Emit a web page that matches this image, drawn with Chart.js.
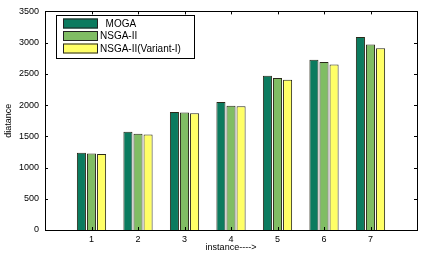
<!DOCTYPE html>
<html>
<head>
<meta charset="utf-8">
<script src="https://cdn.jsdelivr.net/npm/chart.js@4/dist/chart.umd.min.js"></script>
<style>
  html, body { margin: 0; padding: 0; background: #fff; }
  #wrap { width: 423px; height: 270px; }
</style>
</head>
<body>
<div id="wrap"><canvas id="grafico"></canvas></div>
<script>
// dados
const instancias = ['1', '2', '3', '4', '5', '6', '7'];
const series = ['  MOGA', 'NSGA-II', 'NSGA-II(Variant-I)'];
const moga = [1235, 1575, 1890, 2050, 2470, 2725, 3090];
const nsga2 = [1225, 1540, 1880, 1990, 2435, 2690, 2970];
const nsga2Variante = [1215, 1530, 1870, 1980, 2405, 2650, 2910];
const yTicks = [0, 500, 1000, 1500, 2000, 2500, 3000, 3500];

const cores = ['#0b7b5f', '#80bd64', '#ffff66'];
const fonte = 'Liberation Sans, Arial, sans-serif';

// posições vazias nas pontas (eixo vai de 0 a 8)
const rotulos = ['', ...instancias, ''];
const pad = arr => [null, ...arr, null];

// moldura, marcas internas e legenda em caixa
const molduraPlugin = {
  id: 'moldura',
  afterDraw(chart) {
    const ctx = chart.ctx;
    const a = chart.chartArea;
    const x = chart.scales.x, y = chart.scales.y;
    ctx.save();
    ctx.strokeStyle = '#000';
    ctx.lineWidth = 1;
    ctx.strokeRect(Math.round(a.left) + 0.5, Math.round(a.top) + 0.5,
      Math.round(a.right - a.left), Math.round(a.bottom - a.top));
    ctx.beginPath();
    for (let i = 1; i <= instancias.length; i++) {
      const px = Math.round(x.getPixelForValue(i)) + 0.5;
      ctx.moveTo(px, a.bottom); ctx.lineTo(px, a.bottom - 3);
      ctx.moveTo(px, a.top); ctx.lineTo(px, a.top + 3);
    }
    yTicks.forEach(v => {
      const py = Math.round(y.getPixelForValue(v)) + 0.5;
      ctx.moveTo(a.left, py); ctx.lineTo(a.left + 3, py);
      ctx.moveTo(a.right, py); ctx.lineTo(a.right - 3, py);
    });
    ctx.stroke();

    // legenda
    const lx = 56, ly = 15, lw = 138, lh = 43;
    ctx.fillStyle = '#fff';
    ctx.fillRect(lx, ly, lw, lh);
    ctx.strokeRect(lx + 0.5, ly + 0.5, lw, lh);
    ctx.font = '10px ' + fonte;
    ctx.textBaseline = 'middle';
    series.forEach((nome, i) => {
      const ry = ly + 3.5 + i * 12.5;
      ctx.fillStyle = cores[i];
      ctx.fillRect(63, ry, 35, 10);
      ctx.strokeStyle = '#222';
      ctx.strokeRect(63.5, ry + 0.5, 34, 9);
      ctx.fillStyle = '#000';
      ctx.fillText(nome, 100, ry + 5.5);
    });
    ctx.restore();
  }
};

new Chart(document.getElementById('grafico'), {
  type: 'bar',
  data: {
    labels: rotulos,
    datasets: [moga, nsga2, nsga2Variante].map((valores, i) => ({
      label: series[i],
      data: pad(valores),
      backgroundColor: cores[i],
      borderColor: '#2a2a1a',
      borderWidth: 1,
      categoryPercentage: 0.65,
      barPercentage: 0.9
    }))
  },
  options: {
    responsive: true,
    maintainAspectRatio: false,
    animation: false,
    layout: { padding: { top: 6, right: 6, left: 0, bottom: 0 } },
    plugins: {
      legend: { display: false },
      tooltip: { enabled: false }
    },
    scales: {
      x: {
        offset: false,
        grid: { display: false, drawTicks: false },
        border: { display: false },
        ticks: {
          autoSkip: false, maxRotation: 0, padding: 4,
          color: '#000', font: { family: fonte, size: 9 }
        },
        title: {
          display: true, text: 'instance---->', color: '#000',
          font: { family: fonte, size: 9 }, padding: { top: 0, bottom: 17 }
        },
        afterFit: s => { s.height = 40; }
      },
      y: {
        min: 0, max: 3500,
        grid: { display: false, drawTicks: false },
        border: { display: false },
        ticks: {
          stepSize: 500, padding: 6,
          color: '#000', font: { family: fonte, size: 9 },
          callback: v => String(v)
        },
        title: {
          display: true, text: 'diatance', color: '#000',
          font: { family: fonte, size: 9 }, padding: { top: 3, bottom: 0 }
        },
        afterFit: s => { s.width = 45; }
      }
    }
  },
  plugins: [molduraPlugin]
});
</script>
</body>
</html>
